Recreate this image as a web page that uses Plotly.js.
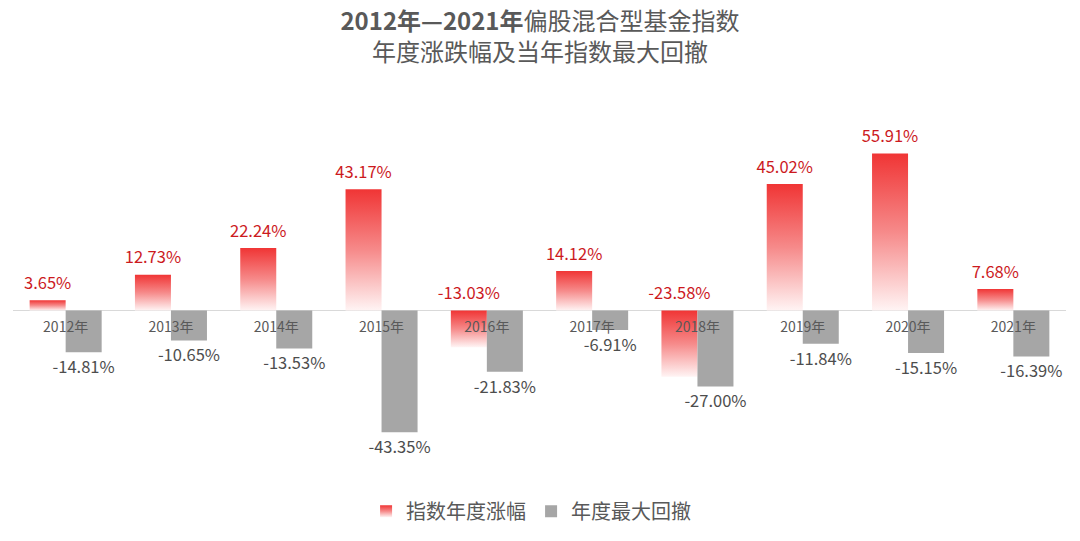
<!DOCTYPE html>
<html>
<head>
<meta charset="utf-8">
<script src="https://cdn.plot.ly/plotly-3.0.1.min.js"></script>
<style>html,body{margin:0;padding:0;background:#fff;}#chart{width:1080px;height:541px;}</style>
</head>
<body>
<div id="chart"></div>
<script>
var years = ['2012年','2013年','2014年','2015年','2016年','2017年','2018年','2019年','2020年','2021年'];
var indexReturn = [3.65, 12.73, 22.24, 43.17, -13.03, 14.12, -23.58, 45.02, 55.91, 7.68];
var maxDrawdown = [-14.81, -10.65, -13.53, -43.35, -21.83, -6.91, -27.00, -11.84, -15.15, -16.39];

var half = 0.171;
var idx = years.map(function(_, i){ return i; });
var xRed = idx.map(function(i){ return i - half; });
var xGray = idx.map(function(i){ return i + half; });
var fmt = function(v){ return v.toFixed(2) + '%'; };
var FONT = '"Noto Sans CJK SC", "Noto Sans", sans-serif';
var ghost = function(sz){ return {size:sz, opacity:0, color:'rgba(0,0,0,0)'}; };

var traces = [
  {type:'bar', name:'指数年度涨幅', x:xRed, y:indexReturn, width:2*half,
   marker:{color:'#f03a3a', line:{width:0}}, hoverinfo:'none'},
  {type:'bar', name:'年度最大回撤', x:xGray, y:maxDrawdown, width:2*half,
   marker:{color:'#a6a6a6', line:{width:0}}, hoverinfo:'none'},
  {type:'scatter', mode:'markers+text', x:xRed, y:indexReturn.map(function(v){return Math.max(v,0);}),
   marker:ghost(10), cliponaxis:false,
   text:indexReturn.map(fmt), textposition:'top center',
   textfont:{family:FONT, size:16.5, color:'#cc1a1e'}, showlegend:false, hoverinfo:'none'},
  {type:'scatter', mode:'markers+text', x:xGray, y:maxDrawdown,
   marker:ghost(12), cliponaxis:false,
   text:maxDrawdown.map(fmt), textposition:'bottom center',
   textfont:{family:FONT, size:16.5, color:'#4d4d4d'}, showlegend:false, hoverinfo:'none'},
  {type:'scatter', mode:'markers+text', x:idx, y:idx.map(function(){return 0;}),
   marker:ghost(16), cliponaxis:false,
   text:years, textposition:'bottom center',
   textfont:{family:FONT, size:14, color:'#595959'}, showlegend:false, hoverinfo:'none'}
];

var layout = {
  width:1080, height:541,
  margin:{l:13, r:14, t:142, b:90},
  paper_bgcolor:'#ffffff', plot_bgcolor:'#ffffff',
  font:{family:FONT, color:'#595959'},
  title:{text:'<b>2012年—2021年</b>偏股混合型基金指数<br>年度涨跌幅及当年指数最大回撤',
    x:0.5, xanchor:'center', y:0.944, yanchor:'top', yref:'container',
    font:{family:FONT, size:24, color:'#595959'}},
  barmode:'overlay',
  showlegend:true,
  legend:{orientation:'h', x:0.492, xanchor:'center', yref:'container', y:0.055, yanchor:'middle',
    font:{family:FONT, size:20, color:'#595959'}, traceorder:'normal'},
  xaxis:{range:[-0.5, 9.5], showgrid:false, zeroline:false, showticklabels:false, ticks:'', fixedrange:true},
  yaxis:{range:[-50, 60], showgrid:false, zeroline:true, zerolinecolor:'#d9d9d9', zerolinewidth:1.5,
    showticklabels:false, ticks:'', fixedrange:true}
};

Plotly.newPlot('chart', traces, layout, {displayModeBar:false, staticPlot:true}).then(function(gd){
  var svgNS = 'http://www.w3.org/2000/svg';
  var svg = gd.querySelector('svg.main-svg');
  var defs = svg.querySelector('defs') || svg.insertBefore(document.createElementNS(svgNS,'defs'), svg.firstChild);
  var grad = document.createElementNS(svgNS, 'linearGradient');
  grad.setAttribute('id', 'redGrad');
  grad.setAttribute('x1','0'); grad.setAttribute('y1','0');
  grad.setAttribute('x2','0'); grad.setAttribute('y2','1');
  [['0','#f03535'],['0.5','#f68a8a'],['1','#fff4f4']].forEach(function(s){
    var st = document.createElementNS(svgNS,'stop');
    st.setAttribute('offset', s[0]); st.setAttribute('stop-color', s[1]);
    grad.appendChild(st);
  });
  defs.appendChild(grad);
  var barTraces = gd.querySelectorAll('.barlayer .trace');
  if (barTraces.length) {
    barTraces[0].querySelectorAll('path').forEach(function(p){ p.style.fill = 'url(#redGrad)'; });
  }
  var legTraces = gd.querySelectorAll('.legend .traces');
  if (legTraces.length) {
    legTraces[0].querySelectorAll('.legendpoints path').forEach(function(p){ p.style.fill = 'url(#redGrad)'; });
  }
});
</script>
</body>
</html>
